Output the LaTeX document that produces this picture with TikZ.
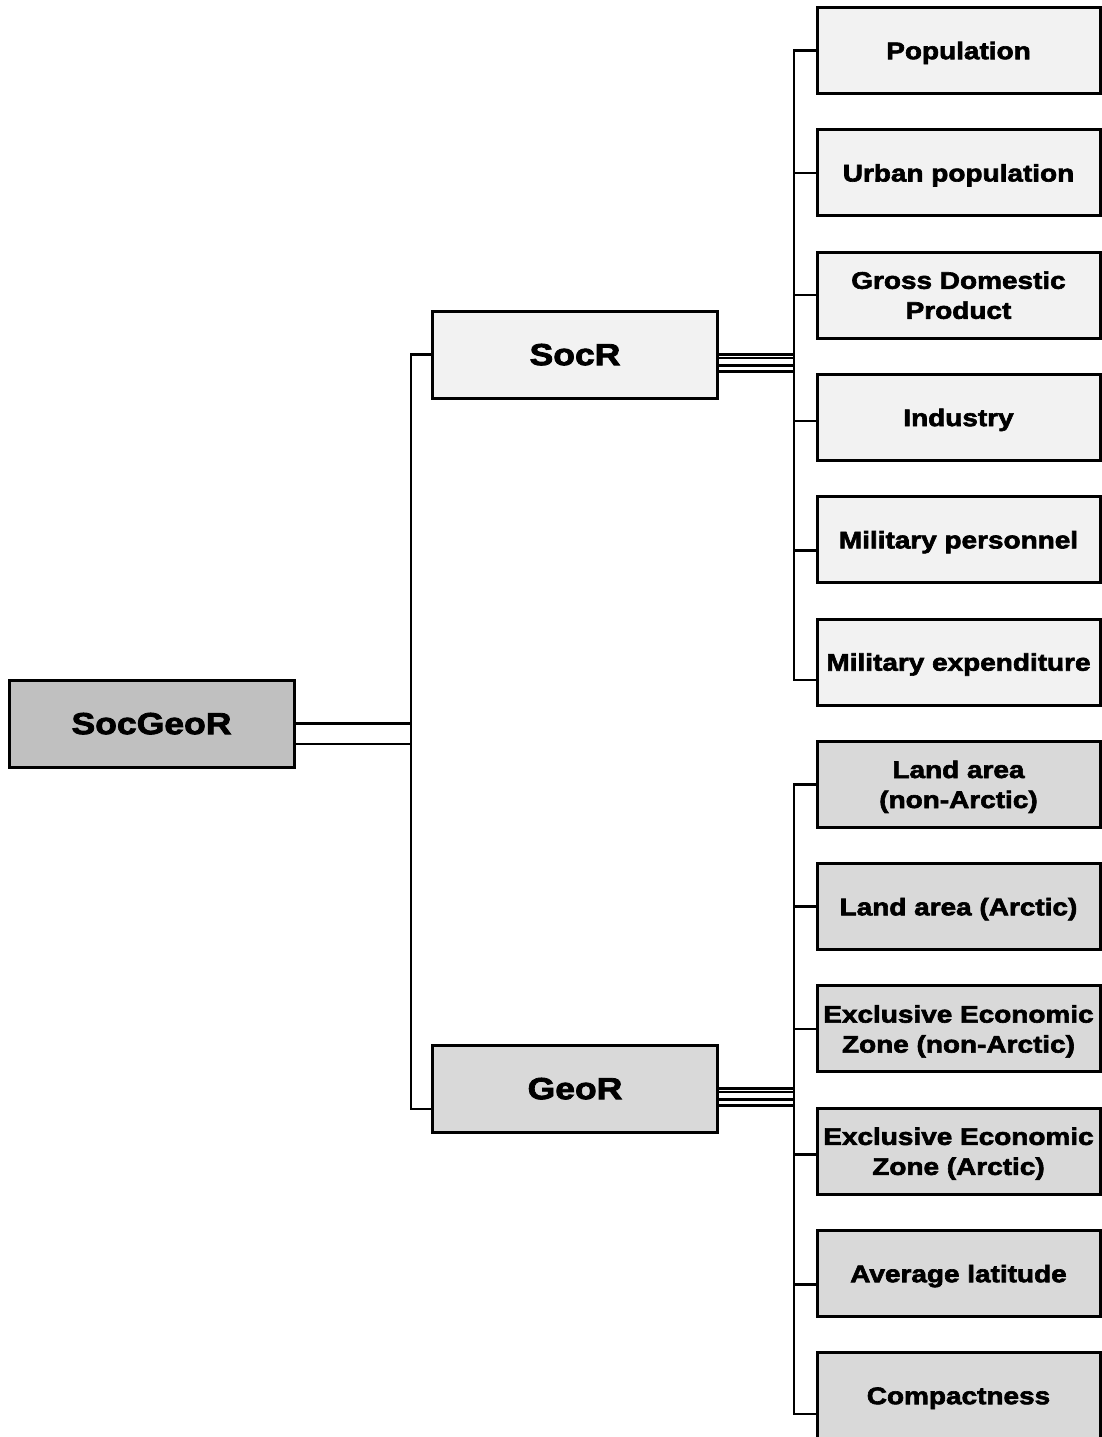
\documentclass[tikz,border=0pt]{standalone}
\usepackage{fontspec}
\newfontfamily\heavy{Liberation Sans Bold}[FakeStretch=1.165,FakeBold=2.6]
\usetikzlibrary{positioning}

\definecolor{rootfill}{HTML}{C0C0C0}
\definecolor{socfill}{HTML}{F2F2F2}
\definecolor{geofill}{HTML}{D9D9D9}

\tikzset{
  box/.style={draw=black, line width=3pt, inner sep=0pt, align=center,
    text depth=0pt, font=\heavy\fontsize{30.5}{36}\selectfont},
  bigbox/.style={box, minimum width=285pt, minimum height=87pt},
  leafbox/.style={box, minimum width=283pt, minimum height=86pt,
    font=\heavy\fontsize{24}{30}\selectfont},
  socleaf/.style={leafbox, fill=socfill},
  geoleaf/.style={leafbox, fill=geofill},
  conn/.style={line width=2.6pt, line cap=rect}
}

\begin{document}
\begin{tikzpicture}[x=1pt,y=-1pt]
\useasboundingbox (0,0) rectangle (1102,1437);

% trunk positions
\coordinate (lt) at (411,0);
\coordinate (rt) at (794,0);

% main boxes
\node[bigbox, fill=rootfill] (root) at (151.5,723.5) {SocGeoR};
\node[bigbox, fill=socfill]  (soc)  at (575,354.5)  {SocR};
\node[bigbox, fill=geofill]  (geo)  at (575,1088.5) {GeoR};

% leaves
\node[socleaf] (s1) at (958.5,50.5)  {Population};
\node[socleaf] (s2) at (958.5,172.8) {Urban population};
\node[socleaf] (s3) at (958.5,295.1) {Gross Domestic\\Product};
\node[socleaf] (s4) at (958.5,417.4) {Industry};
\node[socleaf] (s5) at (958.5,539.7) {Military personnel};
\node[socleaf] (s6) at (958.5,662.0) {Military expenditure};
\node[geoleaf] (g1) at (958.5,784.3) {Land area\\(non-Arctic)};
\node[geoleaf] (g2) at (958.5,906.6) {Land area (Arctic)};
\node[geoleaf] (g3) at (958.5,1028.9) {Exclusive Economic\\Zone (non-Arctic)};
\node[geoleaf] (g4) at (958.5,1151.2) {Exclusive Economic\\Zone (Arctic)};
\node[geoleaf] (g5) at (958.5,1273.5) {Average latitude};
\node[geoleaf] (g6) at (958.5,1395.8) {Compactness};

% root to the two groups
\draw[conn] (root.east) -- (root.east -| lt);
\draw[conn] ([yshift=-20.5pt]root.east) -- ([yshift=-20.5pt]root.east -| lt);
\draw[conn] (soc.west -| lt) -- ([yshift=-20.5pt]geo.west -| lt);
\draw[conn] (soc.west) -- (soc.west -| lt);
\draw[conn] ([yshift=-20.5pt]geo.west) -- ([yshift=-20.5pt]geo.west -| lt);

% group trunks
\draw[conn] (s1.west -| rt) -- ([yshift=-18pt]s6.west -| rt);
\draw[conn] (g1.west -| rt) -- ([yshift=-18pt]g6.west -| rt);

% group to trunk bundles
\foreach \o in {0,3.5,11,17}{
  \draw[conn] ([yshift=-\o pt]soc.east) -- ([yshift=-\o pt]soc.east -| rt);
  \draw[conn] ([yshift=-\o pt]geo.east) -- ([yshift=-\o pt]geo.east -| rt);
}

% trunk to leaves
\foreach \n/\o in {1/0,2/0,3/0,4/3.5,5/11,6/18}{
  \draw[conn] ([yshift=-\o pt]s\n.west) -- ([yshift=-\o pt]s\n.west -| rt);
  \draw[conn] ([yshift=-\o pt]g\n.west) -- ([yshift=-\o pt]g\n.west -| rt);
}
\end{tikzpicture}
\end{document}
